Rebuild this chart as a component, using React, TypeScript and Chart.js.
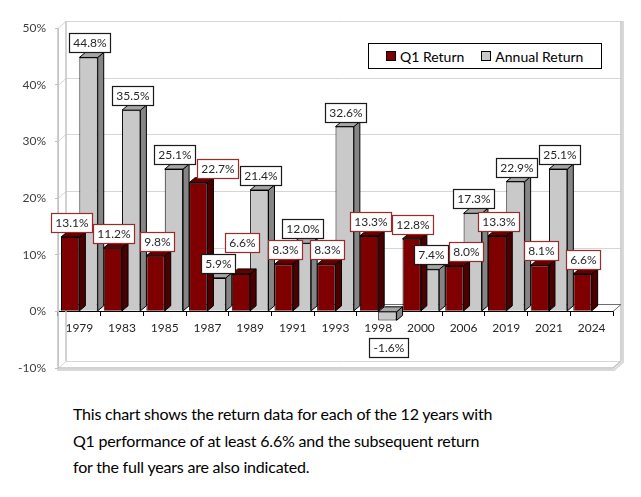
import React, { useEffect, useRef } from "react";
import { Chart, registerables } from "chart.js";

Chart.register(...registerables);

const years = ["1979", "1983", "1985", "1987", "1989", "1991", "1993", "1998", "2000", "2006", "2019", "2021", "2024"];
const q1Return = [13.1, 11.2, 9.8, 22.7, 6.6, 8.3, 8.3, 13.3, 12.8, 8.0, 13.3, 8.1, 6.6];
const annualReturn: (number | null)[] = [44.8, 35.5, 25.1, 5.9, 21.4, 12.0, 32.6, -1.6, 7.4, 17.3, 22.9, 25.1, null];
const yTicks = [-10, 0, 10, 20, 30, 40, 50];
const seriesNames = ["Q1 Return", "Annual Return"];
const captionLines = [
  "This chart shows the return data for each of the 12 years with",
  "Q1 performance of at least 6.6% and the subsequent return",
  "for the full years are also indicated.",
];

const FONT = "Lato, 'Open Sans', sans-serif";
const WALL_DX = 8;
const WALL_DY = -7;
const BAR_DX = 6;
const BAR_DY = -5;

const faces = [
  { front: "#7f0000", side: "#4a0000", top: "#650000", label: "#9c2a2a" },
  { front: "#c9c9c9", side: "#858585", top: "#a6a6a6", label: "#1a1a1a" },
];

const wallPlugin = {
  id: "wall3d",
  beforeDatasetsDraw(chart: any) {
    const { ctx, chartArea, scales } = chart;
    const { left, right, top, bottom } = chartArea;
    const y = scales.y;
    ctx.save();
    ctx.lineWidth = 1;
    ctx.strokeStyle = "#d6d6d6";
    yTicks.forEach((v) => {
      const py = Math.round(y.getPixelForValue(v)) + 0.5;
      ctx.beginPath();
      ctx.moveTo(left + WALL_DX, py + WALL_DY);
      ctx.lineTo(right + WALL_DX, py + WALL_DY);
      ctx.moveTo(left, py);
      ctx.lineTo(left + WALL_DX, py + WALL_DY);
      ctx.stroke();
    });
    ctx.strokeStyle = "#c4c4c4";
    ctx.lineWidth = 1.5;
    ctx.beginPath();
    ctx.moveTo(left + WALL_DX, top + WALL_DY);
    ctx.lineTo(left + WALL_DX, bottom + WALL_DY);
    ctx.moveTo(right + WALL_DX, top + WALL_DY);
    ctx.lineTo(right + WALL_DX, bottom + WALL_DY);
    ctx.moveTo(left, top);
    ctx.lineTo(left, bottom);
    ctx.lineTo(right, bottom);
    ctx.lineTo(right + WALL_DX, bottom + WALL_DY);
    ctx.stroke();
    ctx.lineWidth = 2;
    ctx.strokeStyle = "#d9d9d9";
    ctx.beginPath();
    ctx.moveTo(left - 1, bottom + 2);
    ctx.lineTo(right + 1, bottom + 2);
    ctx.lineTo(right + WALL_DX + 2, bottom + WALL_DY + 1);
    ctx.lineTo(right + WALL_DX + 2, top + WALL_DY);
    ctx.stroke();
    const y0 = Math.round(y.getPixelForValue(0)) + 0.5;
    ctx.lineWidth = 1;
    ctx.strokeStyle = "#6e6e6e";
    ctx.beginPath();
    ctx.moveTo(left + WALL_DX, y0 + WALL_DY);
    ctx.lineTo(right + WALL_DX, y0 + WALL_DY);
    ctx.moveTo(right, y0);
    ctx.lineTo(right + WALL_DX, y0 + WALL_DY);
    ctx.stroke();
    ctx.restore();
  },
};

const barDepthPlugin = {
  id: "bar3d",
  afterDatasetDraw(chart: any, args: any) {
    const { ctx } = chart;
    const meta = chart.getDatasetMeta(args.index);
    const data = chart.data.datasets[args.index].data;
    const c = faces[args.index];
    ctx.save();
    ctx.lineWidth = 1;
    ctx.strokeStyle = "#000000";
    ctx.lineJoin = "round";
    meta.data.forEach((bar: any, i: number) => {
      if (data[i] === null || data[i] === undefined) return;
      const { x, y, base, width } = bar.getProps(["x", "y", "base", "width"], true);
      const l = x - width / 2;
      const r = x + width / 2;
      const t = Math.min(y, base);
      const b = Math.max(y, base);
      ctx.fillStyle = c.side;
      ctx.beginPath();
      ctx.moveTo(r, t);
      ctx.lineTo(r + BAR_DX, t + BAR_DY);
      ctx.lineTo(r + BAR_DX, b + BAR_DY);
      ctx.lineTo(r, b);
      ctx.closePath();
      ctx.fill();
      ctx.stroke();
      ctx.fillStyle = c.top;
      ctx.beginPath();
      ctx.moveTo(l, t);
      ctx.lineTo(l + BAR_DX, t + BAR_DY);
      ctx.lineTo(r + BAR_DX, t + BAR_DY);
      ctx.lineTo(r, t);
      ctx.closePath();
      ctx.fill();
      ctx.stroke();
    });
    ctx.restore();
  },
};

type Box = { x: number; y: number; w: number; h: number; d: number; text: string };

function overlaps(a: Box, b: Box, m: number) {
  return a.x < b.x + b.w + m && b.x < a.x + a.w + m && a.y < b.y + b.h + m && b.y < a.y + a.h + m;
}

const labelPlugin = {
  id: "boxLabels",
  afterDraw(chart: any) {
    const { ctx } = chart;
    ctx.save();
    ctx.font = `12px ${FONT}`;
    ctx.textAlign = "center";
    ctx.textBaseline = "middle";
    const n = chart.data.labels.length;
    const boxes: Box[] = [];
    for (let i = 0; i < n; i++) {
      for (let d = 0; d < chart.data.datasets.length; d++) {
        const v = chart.data.datasets[d].data[i];
        if (v === null || v === undefined) continue;
        const bar = chart.getDatasetMeta(d).data[i];
        const { x, y, base } = bar.getProps(["x", "y", "base"], true);
        const text = `${Number(v).toFixed(1)}%`;
        const w = Math.round(ctx.measureText(text).width + 8);
        const h = 19;
        const boxTop = v >= 0 ? Math.min(y, base) + BAR_DY - h : Math.max(y, base) + 18;
        boxes.push({ x: x + 1 - w / 2, y: boxTop, w, h, d, text });
      }
    }
    // greedy overlap avoidance: a label moves only if it hits an already placed label,
    // and its new spot must also keep clear of the labels still to come
    boxes.forEach((b, k) => {
      const placed = boxes.slice(0, k);
      if (!placed.some((o) => overlaps(b, o, 1))) return;
      const others = boxes.filter((_, j) => j !== k);
      let best: { dx: number; dy: number } | null = null;
      let bestCost = Infinity;
      for (let dy = -36; dy <= 4; dy++) {
        for (let dx = -16; dx <= 18; dx++) {
          const cost = Math.abs(dx) * 1.5 + Math.abs(dy);
          if (cost >= bestCost) continue;
          const cand = { ...b, x: b.x + dx, y: b.y + dy };
          if (others.some((o) => overlaps(cand, o, 1))) continue;
          best = { dx, dy };
          bestCost = cost;
        }
      }
      if (best) {
        b.x += best.dx;
        b.y += best.dy;
      }
    });
    boxes.forEach((b) => {
      const bx = Math.round(b.x) + 0.5;
      const by = Math.round(b.y) + 0.5;
      ctx.fillStyle = "#ffffff";
      ctx.fillRect(bx, by, b.w, b.h);
      ctx.strokeStyle = faces[b.d].label;
      ctx.lineWidth = 1.2;
      ctx.strokeRect(bx, by, b.w, b.h);
      ctx.fillStyle = "#262626";
      ctx.fillText(b.text, bx + b.w / 2, by + b.h / 2 + 0.5);
    });
    ctx.restore();
  },
};

export default function App() {
  const canvasRef = useRef<HTMLCanvasElement | null>(null);

  useEffect(() => {
    if (!canvasRef.current) return;
    const chart = new Chart(canvasRef.current, {
      type: "bar",
      data: {
        labels: years,
        datasets: [
          {
            label: seriesNames[0],
            data: q1Return,
            backgroundColor: faces[0].front,
            borderColor: "#000000",
            borderWidth: 1,
          },
          {
            label: seriesNames[1],
            data: annualReturn,
            backgroundColor: faces[1].front,
            borderColor: "#000000",
            borderWidth: 1,
          },
        ],
      },
      options: {
        animation: false,
        responsive: false,
        maintainAspectRatio: false,
        devicePixelRatio: 1,
        layout: { padding: { left: 0, right: 28, top: 28, bottom: 32 } },
        datasets: { bar: { categoryPercentage: 0.86, barPercentage: 1.0 } },
        plugins: {
          legend: { display: false },
          tooltip: { enabled: false },
          title: { display: false },
        },
        scales: {
          x: {
            position: { y: 0 } as any,
            grid: {
              display: true,
              drawOnChartArea: false,
              drawTicks: true,
              tickLength: 4,
              color: "#000000",
              offset: true,
            },
            border: { display: true, color: "#000000", width: 1 },
            ticks: {
              color: "#262626",
              font: { family: FONT, size: 12 },
              padding: 6,
              maxRotation: 0,
              autoSkip: false,
            },
          },
          y: {
            min: -10,
            max: 50,
            afterFit: (s: any) => {
              s.width = 58;
            },
            afterBuildTicks: (s: any) => {
              s.ticks = yTicks.map((v) => ({ value: v }));
            },
            grid: {
              display: true,
              drawOnChartArea: false,
              drawTicks: true,
              tickLength: 3,
              color: "#bfbfbf",
            },
            border: { display: true, color: "#c4c4c4", width: 1 },
            ticks: {
              color: "#404040",
              font: { family: FONT, size: 12 },
              padding: 9,
              callback: (v: any) => `${v}%`,
            },
          },
        },
      },
      plugins: [wallPlugin, barDepthPlugin, labelPlugin],
    });
    return () => chart.destroy();
  }, []);

  return (
    <div
      style={{
        position: "absolute",
        left: 0,
        top: 0,
        width: 641,
        height: 497,
        background: "#ffffff",
        overflow: "hidden",
      }}
    >
      <canvas ref={canvasRef} width={641} height={400} style={{ position: "absolute", left: 0, top: 0, width: 641, height: 400 }} />
      <div
        style={{
          position: "absolute",
          left: 368,
          top: 43,
          width: 232,
          height: 24,
          border: "1px solid #000",
          background: "#fff",
          fontFamily: FONT,
          fontSize: 14,
          color: "#000",
          display: "flex",
          alignItems: "center",
          boxSizing: "content-box",
        }}
      >
        <span style={{ display: "inline-block", width: 8, height: 8, background: faces[0].front, border: "1px solid #000", marginLeft: 17, marginRight: 4 }} />
        <span>{seriesNames[0]}</span>
        <span style={{ display: "inline-block", width: 8, height: 8, background: faces[1].front, border: "1px solid #000", marginLeft: 17, marginRight: 4 }} />
        <span>{seriesNames[1]}</span>
      </div>
      <div
        style={{
          position: "absolute",
          left: 73,
          top: 401,
          fontFamily: FONT,
          fontSize: 16,
          letterSpacing: "-0.2px",
          lineHeight: "26.5px",
          color: "#000",
          whiteSpace: "nowrap",
        }}
      >
        {captionLines.map((line, i) => (
          <div key={i}>{line}</div>
        ))}
      </div>
    </div>
  );
}
